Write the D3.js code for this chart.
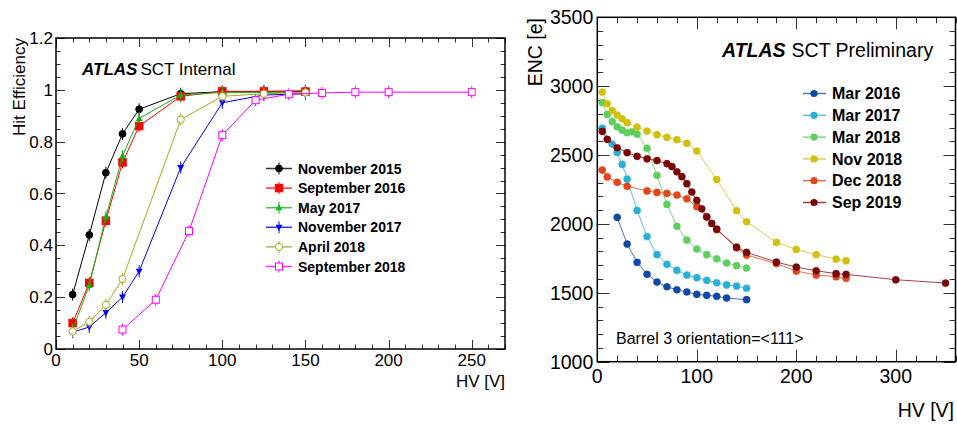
<!DOCTYPE html>
<html><head><meta charset="utf-8">
<script src="https://cdn.jsdelivr.net/npm/d3@7"></script>
<style>body{margin:0;background:#fff}svg{display:block;font-family:"Liberation Sans",Arial,Helvetica,sans-serif}</style>
</head><body>
<svg id="c" width="957" height="424"></svg>
<script>
// ---------- Left chart data: hit efficiency vs HV ----------
const effNames = ["November 2015","September 2016","May 2017","November 2017","April 2018","September 2018"];
const hvNov15 = [10,20,30,40,50,75,100,125,150];
const effNov15 = [0.21,0.44,0.68,0.83,0.925,0.985,0.993,0.994,0.996];
const hvSep16 = [10,20,30,40,50,75,100,125,150];
const effSep16 = [0.10,0.255,0.495,0.72,0.86,0.975,0.994,0.994,0.993];
const hvMay17 = [10,20,30,40,50,75,100,125,150];
const effMay17 = [0.075,0.245,0.51,0.745,0.89,0.98,0.99,0.99,0.99];
const hvNov17 = [10,20,30,40,50,75,100,125,150];
const effNov17 = [0.065,0.085,0.14,0.20,0.30,0.70,0.95,0.98,0.985];
const hvApr18 = [10,20,30,40,75,100,125,150];
const effApr18 = [0.068,0.105,0.17,0.27,0.885,0.975,0.985,0.99];
const hvSep18 = [40,60,80,100,120,140,160,180,200,250];
const effSep18 = [0.075,0.19,0.455,0.825,0.96,0.983,0.988,0.991,0.991,0.991];
const effXTicks = [0,50,100,150,200,250];
const effYTicks = [0,0.2,0.4,0.6,0.8,1,1.2];

// ---------- Right chart data: ENC vs HV ----------
const encNames = ["Mar 2016","Mar 2017","Mar 2018","Nov 2018","Dec 2018","Sep 2019"];
const hvMar16 = [20,30,40,50,60,70,80,90,100,110,120,130,150];
const encMar16 = [2048,1854,1721,1634,1578,1544,1522,1506,1489,1482,1475,1462,1450];
const hvMar17 = [5,15,20,25,30,40,50,60,70,80,90,100,110,120,130,140,150];
const encMar17 = [2695,2580,2518,2432,2326,2098,1908,1777,1707,1663,1629,1610,1591,1573,1557,1549,1533];
const hvMar18 = [5,10,15,20,25,30,35,40,50,60,70,80,90,100,110,120,130,140,150];
const encMar18 = [2880,2795,2742,2705,2681,2662,2669,2652,2549,2353,2142,1983,1883,1818,1777,1747,1716,1697,1680];
const hvNov18 = [5,10,15,20,25,30,40,50,60,70,80,90,100,120,140,150,180,200,220,240,250];
const encNov18 = [2957,2872,2823,2790,2763,2735,2703,2674,2648,2628,2612,2585,2529,2323,2096,2016,1866,1815,1777,1745,1733];
const hvDec18 = [5,10,20,30,50,60,70,80,90,100,110,120,140,150,180,200,220,240,250];
const encDec18 = [2391,2341,2302,2273,2240,2229,2222,2210,2182,2125,2050,1958,1826,1774,1712,1658,1629,1617,1605];
const hvSep19 = [5,10,20,30,40,50,60,70,75,80,85,90,95,100,105,110,115,120,140,150,180,200,220,240,250,300,350];
const encSep19 = [2672,2614,2553,2518,2491,2473,2460,2438,2417,2379,2343,2292,2231,2171,2110,2052,2004,1963,1832,1794,1723,1687,1660,1639,1634,1595,1571];
const encXTicks = [0,100,200,300];
const encYTicks = [1000,1500,2000,2500,3000,3500];

// ---------- build ----------
const svg = d3.select("#c");
const zip = (xs, ys) => xs.map((x,i)=>({x, y: ys[i]}));

// ===== Left chart =====
const xL = d3.scaleLinear().domain([0,270]).range([56,505]);
const yL = d3.scaleLinear().domain([0,1.2]).range([349,38]);
const effSeries = [
  {name:effNames[0], data:zip(hvNov15,effNov15), color:"#000000", marker:"circle", fill:true},
  {name:effNames[1], data:zip(hvSep16,effSep16), color:"#ff0000", marker:"square", fill:true},
  {name:effNames[2], data:zip(hvMay17,effMay17), color:"#16b316", marker:"triUp", fill:true},
  {name:effNames[3], data:zip(hvNov17,effNov17), color:"#0000ff", marker:"triDown", fill:true},
  {name:effNames[4], data:zip(hvApr18,effApr18), color:"#a8a81c", marker:"circle", fill:false},
  {name:effNames[5], data:zip(hvSep18,effSep18), color:"#ff00ff", marker:"square", fill:false}
];

function rootAxes(g, x, y, xMajor, xMinorStep, yMajor, yMinorStep, majLen, minLen, fontSize, xFmt, yFmt, xLabelDy, yLabelDx) {
  const [x0,x1] = x.range(), [y0,y1] = y.range();
  const [dx0,dx1] = x.domain(), [dy0,dy1] = y.domain();
  const tk = g.append("g").attr("stroke","#333").attr("stroke-width",1);
  const xMin = d3.range(dx0, dx1+1e-9, xMinorStep);
  xMin.forEach(v=>{
    const isMaj = xMajor.some(m=>Math.abs(m-v)<1e-9);
    const L = isMaj?majLen:minLen, px = Math.round(x(v))+0.5;
    tk.append("line").attr("x1",px).attr("x2",px).attr("y1",y0).attr("y2",y0-L);
    tk.append("line").attr("x1",px).attr("x2",px).attr("y1",y1).attr("y2",y1+L);
  });
  const yMin = d3.range(dy0, dy1+1e-9, yMinorStep);
  yMin.forEach(v=>{
    const isMaj = yMajor.some(m=>Math.abs(m-v)<1e-6);
    const L = isMaj?majLen:minLen, py = Math.round(y(v))+0.5;
    tk.append("line").attr("x1",x0).attr("x2",x0+L).attr("y1",py).attr("y2",py);
    tk.append("line").attr("x1",x1).attr("x2",x1-L).attr("y1",py).attr("y2",py);
  });
  g.append("rect").attr("x",x0).attr("y",y1).attr("width",x1-x0).attr("height",y0-y1)
    .attr("fill","none").attr("stroke","#000").attr("stroke-width",1.5);
  xMajor.forEach(v=>{
    g.append("text").attr("x",x(v)).attr("y",y0+xLabelDy).attr("text-anchor","middle")
      .attr("font-size",fontSize).text(xFmt(v));
  });
  yMajor.forEach(v=>{
    g.append("text").attr("x",x0-yLabelDx).attr("y",y(v)).attr("dy","0.36em").attr("text-anchor","end")
      .attr("font-size",fontSize).text(yFmt(v));
  });
}

const gL = svg.append("g");
rootAxes(gL, xL, yL, effXTicks, 10, effYTicks, 0.05, 9, 4.5, 17, d=>String(d), d=>String(+d.toFixed(1)), 17, 3);
gL.append("text").attr("x",505).attr("y",387).attr("text-anchor","end").attr("font-size",17).text("HV [V]");
gL.append("text").attr("transform","translate(25,38) rotate(-90)").attr("text-anchor","end").attr("font-size",17).text("Hit Efficiency");
const tl = gL.append("text").attr("x",82).attr("y",75).attr("font-size",17);
tl.append("tspan").attr("font-weight","bold").attr("font-style","italic").text("ATLAS");
tl.append("tspan").attr("dx",3).text("SCT Internal");

function drawMarker(g, cx, cy, s) {
  const f = s.fill ? s.color : "#fff";
  if (s.marker==="circle") {
    g.append("circle").attr("cx",cx).attr("cy",cy).attr("r",s.fill?3.4:3.6)
      .attr("fill",f).attr("stroke",s.color).attr("stroke-width",1);
  } else if (s.marker==="square") {
    const a = s.fill?7.5:7;
    g.append("rect").attr("x",cx-a/2).attr("y",cy-a/2).attr("width",a).attr("height",a)
      .attr("fill",f).attr("stroke",s.color).attr("stroke-width",1);
  } else if (s.marker==="triUp") {
    g.append("path").attr("d",`M${cx},${cy-3.8}L${cx+3.4},${cy+2.6}L${cx-3.4},${cy+2.6}Z`).attr("fill",f);
  } else if (s.marker==="triDown") {
    g.append("path").attr("d",`M${cx},${cy+3.8}L${cx+3.4},${cy-2.6}L${cx-3.4},${cy-2.6}Z`).attr("fill",f);
  }
}

effSeries.forEach(s=>{
  const g = gL.append("g");
  g.append("path").datum(s.data).attr("fill","none").attr("stroke",s.color).attr("stroke-width",1)
    .attr("d", d3.line().x(d=>xL(d.x)).y(d=>yL(d.y)));
  s.data.forEach(d=>{
    g.append("line").attr("x1",xL(d.x)).attr("x2",xL(d.x)).attr("y1",yL(d.y)-6).attr("y2",yL(d.y)+6)
      .attr("stroke",s.color).attr("stroke-width",1);
    drawMarker(g, xL(d.x), yL(d.y), s);
  });
});
effSeries.forEach((s,i)=>{
  const cy = 168.5 + i*19.6;
  const g = gL.append("g");
  g.append("line").attr("x1",266).attr("x2",292).attr("y1",cy).attr("y2",cy).attr("stroke",s.color).attr("stroke-width",1.5).attr("opacity",0.8);
  g.append("line").attr("x1",279).attr("x2",279).attr("y1",cy-6).attr("y2",cy+6).attr("stroke",s.color).attr("stroke-width",1);
  drawMarker(g, 279, cy, s);
  g.append("text").attr("x",298).attr("y",cy).attr("dy","0.36em").attr("font-size",14).attr("font-weight","bold").text(s.name);
});

// ===== Right chart =====
const xR = d3.scaleLinear().domain([0,360]).range([597.3,955.5]);
const yR = d3.scaleLinear().domain([1000,3500]).range([361.7,17.3]);
const encSeries = [
  {name:encNames[0], data:zip(hvMar16,encMar16), color:"#1048a8", line:"#4a78c0"},
  {name:encNames[1], data:zip(hvMar17,encMar17), color:"#28b0d8", line:"#5cc4e2"},
  {name:encNames[2], data:zip(hvMar18,encMar18), color:"#5ccf5c", line:"#82da82"},
  {name:encNames[3], data:zip(hvNov18,encNov18), color:"#d2c010", line:"#dccd48"},
  {name:encNames[4], data:zip(hvDec18,encDec18), color:"#e2461a", line:"#e8704e"},
  {name:encNames[5], data:zip(hvSep19,encSep19), color:"#780808", line:"#a84040"}
];
const gR = svg.append("g");
rootAxes(gR, xR, yR, encXTicks, 20, encYTicks, 100, 12, 6, 19.5, d=>String(d), d=>String(d), 21, 4);
gR.append("text").attr("x",954).attr("y",417).attr("text-anchor","end").attr("font-size",19.5).text("HV [V]");
gR.append("text").attr("transform","translate(542,18) rotate(-90)").attr("text-anchor","end").attr("font-size",19.5).text("ENC [e]");
const tr = gR.append("text").attr("x",722).attr("y",57).attr("font-size",19.5);
tr.append("tspan").attr("font-weight","bold").attr("font-style","italic").text("ATLAS");
tr.append("tspan").attr("dx",6).text("SCT Preliminary");
gR.append("text").attr("x",616).attr("y",344).attr("font-size",16).text("Barrel 3 orientation=<111>");

encSeries.forEach(s=>{
  const g = gR.append("g");
  g.append("path").datum(s.data).attr("fill","none").attr("stroke",s.line).attr("stroke-width",1)
    .attr("d", d3.line().x(d=>xR(d.x)).y(d=>yR(d.y)));
  g.selectAll("circle").data(s.data).join("circle")
    .attr("cx",d=>xR(d.x)).attr("cy",d=>yR(d.y)).attr("r",3.6)
    .attr("fill",s.color).attr("stroke",s.color).attr("stroke-opacity",0.35).attr("stroke-width",1);
});
encSeries.forEach((s,i)=>{
  const cy = 93.5 + i*21.8;
  const g = gR.append("g");
  g.append("line").attr("x1",803).attr("x2",826).attr("y1",cy).attr("y2",cy).attr("stroke",s.line).attr("stroke-width",1.5);
  g.append("circle").attr("cx",814).attr("cy",cy).attr("r",3.6).attr("fill",s.color);
  g.append("text").attr("x",832).attr("y",cy).attr("dy","0.36em").attr("font-size",16).attr("font-weight","bold").text(s.name);
});
</script>
</body></html>
